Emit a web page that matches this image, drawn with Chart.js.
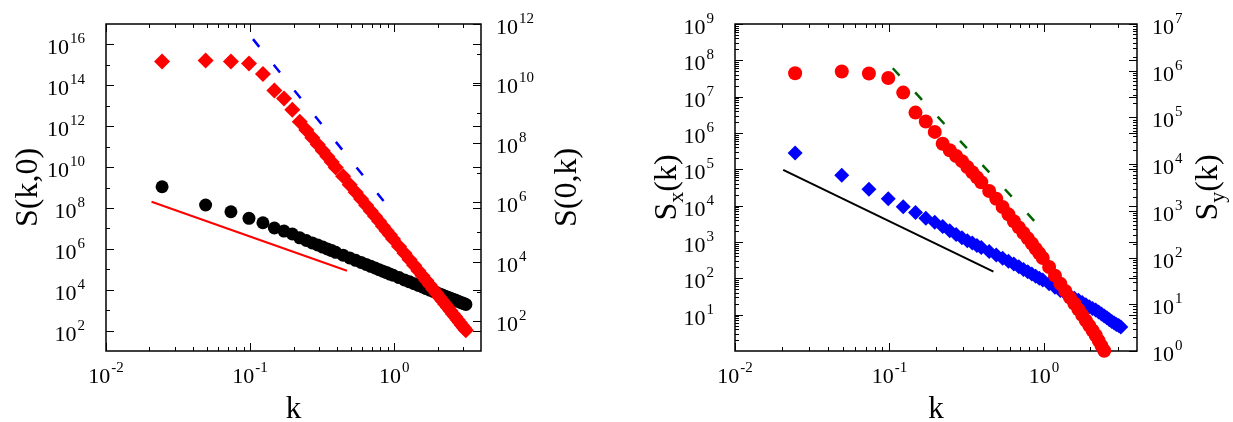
<!DOCTYPE html>
<html>
<head>
<meta charset="utf-8">
<script src="https://cdn.jsdelivr.net/npm/chart.js@4.4.1/dist/chart.umd.min.js"></script>
<style>
  html, body { margin: 0; padding: 0; background: #fff; }
  #wrap { position: relative; width: 1233px; height: 422px; }
  #wrap canvas { position: absolute; top: 0; }
</style>
</head>
<body>
<div id="wrap">
  <canvas id="left" width="616" height="422" style="left:0"></canvas>
  <canvas id="right" width="617" height="422" style="left:616px"></canvas>
</div>
<script>
// wave numbers k (shared by both panels)
const kVals = [0.0245, 0.0491, 0.0736, 0.0982, 0.1227, 0.1473, 0.1718, 0.1963, 0.2209, 0.2454,
  0.2700, 0.2945, 0.3191, 0.3436, 0.3682, 0.3927, 0.4418, 0.4909, 0.5400, 0.5890,
  0.6381, 0.6872, 0.7363, 0.7854, 0.8345, 0.8836, 0.9327, 0.9817, 1.0799, 1.1781,
  1.2763, 1.3744, 1.4726, 1.5708, 1.6690, 1.7671, 1.8653, 1.9635, 2.0617, 2.1598,
  2.2580, 2.3562, 2.4544, 2.5525, 2.6507, 2.7489, 2.8471, 2.9452, 3.0434, 3.1416];

// left panel: S(k,0) black circles (left axis), S(0,k) red diamonds (right axis)
const sk0 = [1.09e9, 1.39e8, 6.5e7, 3.1e7, 1.89e7, 1.04e7, 7.4e6, 5.3e6, 3.45e6, 2.55e6,
  1.95e6, 1.54e6, 1.21e6, 9.9e5, 8.2e5, 6.7e5, 4.9e5, 3.6e5, 2.74e5, 2.16e5,
  1.73e5, 1.39e5, 1.15e5, 9.5e4, 8.0e4, 6.9e4, 5.8e4, 5.1e4, 3.9e4, 3.0e4,
  2.43e4, 1.96e4, 1.62e4, 1.35e4, 1.13e4, 9.6e3, 8.2e3, 7.2e3, 6.2e3, 5.5e3,
  4.8e3, 4.3e3, 3.8e3, 3.4e3, 3.1e3, 2.76e3, 2.5e3, 2.28e3, 2.08e3, 1.9e3];
const s0k = [5.5e10, 5.9e10, 5.5e10, 4.7e10, 2.1e10, 5.8e9, 3.1e9, 1.3e9, 5.1e8, 2.7e8,
  1.5e8, 8.9e7, 5.4e7, 3.5e7, 2.3e7, 1.5e7, 7.5e6, 3.9e6, 2.2e6, 1.3e6,
  8.0e5, 5.1e5, 3.4e5, 2.3e5, 1.57e5, 1.11e5, 8.1e4, 5.9e4, 3.3e4, 1.93e4,
  1.19e4, 7.6e3, 5.0e3, 3.4e3, 2.35e3, 1.66e3, 1.19e3, 870, 643, 486,
  371, 289, 224, 176, 141, 112, 91, 74, 60, 50];
const sk0FitK = [0.0207, 0.47];
const sk0FitV = [2.0e8, 8.5e4];
const s0kFitK = [0.1047, 0.887];
const s0kFitV = [3.1e11, 8.2e5];

// right panel: Sx(k) blue diamonds (left axis), Sy(k) red circles (right axis)
const sx = [2.8e5, 6.9e4, 2.85e4, 1.54e4, 9.4e3, 6.5e3, 4.5e3, 3.5e3, 2.65e3, 2.04e3,
  1.6e3, 1.3e3, 1.09e3, 933, 806, 701, 544, 436, 358, 296,
  248, 207, 176, 151, 131, 114, 101, 90, 71, 57,
  46, 39, 33, 28.3, 24.8, 21.5, 18.7, 16.6, 14.8, 13.4,
  11.9, 10.4, 9.2, 8.2, 7.3, 6.5, 5.9, 5.4, 5.0, 4.6];
const sy = [8.8e5, 9.6e5, 8.7e5, 7.0e5, 3.4e5, 1.27e5, 8.2e4, 4.9e4, 2.74e4, 1.99e4,
  1.49e4, 1.16e4, 8.7e3, 6.7e3, 5.2e3, 4.1e3, 2.67e3, 1.82e3, 1.21e3, 841,
  601, 443, 335, 258, 200, 155, 123, 98, 63, 41,
  27.5, 19.3, 13.9, 10.4, 7.8, 5.9, 4.5, 3.5, 2.75, 2.18,
  1.67, 1.29, 1.01];
const sxFitK = [0.0205, 0.471];
const sxFitV = [9.7e4, 153];
const syFitK = [0.105, 0.902];
const syFitV = [1.13e6, 524];

// tick label exponents
const xTickExps = [-2, -1, 0];
const leftYTickExps = [2, 4, 6, 8, 10, 12, 14, 16];
const leftY2TickExps = [2, 4, 6, 8, 10, 12];
const rightYTickExps = [1, 2, 3, 4, 5, 6, 7, 8, 9];
const rightY2TickExps = [0, 1, 2, 3, 4, 5, 6, 7];

const SERIF = '"Liberation Serif", "DejaVu Serif", serif';

const pts = (ks, vs) => vs.map((v, i) => ({ x: ks[i], y: v }));

// 10^n label with raised exponent
function powLabel(ctx, exp, x, y, align) {
  const sup = String(exp);
  ctx.font = '22px ' + SERIF;
  const wb = ctx.measureText('10').width;
  ctx.font = '15px ' + SERIF;
  const ws = ctx.measureText(sup).width;
  let x0 = x;
  if (align === 'right') x0 = x - wb - ws - 1;
  if (align === 'center') x0 = x - (wb + ws + 1) / 2;
  ctx.font = '22px ' + SERIF;
  ctx.fillText('10', x0, y);
  ctx.font = '15px ' + SERIF;
  ctx.fillText(sup, x0 + wb + 1, y - 11);
}

// text made of pieces [text, size, dy], centred on x,y
function richText(ctx, parts, x, y, rotate) {
  ctx.save();
  ctx.translate(x, y);
  if (rotate) ctx.rotate(-Math.PI / 2);
  let w = 0;
  parts.forEach(p => { ctx.font = p[1] + 'px ' + SERIF; w += ctx.measureText(p[0]).width; });
  let cx = -w / 2;
  parts.forEach(p => {
    ctx.font = p[1] + 'px ' + SERIF;
    ctx.fillText(p[0], cx, p[2]);
    cx += ctx.measureText(p[0]).width;
  });
  ctx.restore();
}

function minorVals(scale, mode) {
  const out = [];
  const e0 = Math.floor(Math.log10(scale.min)), e1 = Math.ceil(Math.log10(scale.max));
  for (let e = e0; e <= e1; e++) {
    if (mode === 'odd') {
      if (Math.abs(e % 2) === 1) out.push(Math.pow(10, e));
    } else {
      for (let m = 2; m <= 9; m++) out.push(m * Math.pow(10, e));
    }
  }
  return out.filter(v => v > scale.min && v < scale.max);
}

const frames = {
  left: {
    yLabels: leftYTickExps, y2Labels: leftY2TickExps, yMinor: 'odd', y2Minor: 'odd',
    yTitle: [['S(k,0)', 32, 11]], y2Title: [['S(0,k)', 32, 11]], yTitleOff: 80, y2TitleOff: 84
  },
  right: {
    yLabels: rightYTickExps, y2Labels: rightY2TickExps, yMinor: 'sub', y2Minor: 'sub',
    yTitle: [['S', 32, 11], ['x', 22, 18], ['(k)', 32, 11]],
    y2Title: [['S', 32, 11], ['y', 22, 18], ['(k)', 32, 11]], yTitleOff: 70, y2TitleOff: 69
  }
};

const logFrame = {
  id: 'logFrame',
  beforeDatasetsDraw(chart) {
    const f = frames[chart.canvas.id];
    const ctx = chart.ctx, a = chart.chartArea;
    const xs = chart.scales.x, ys = chart.scales.y, y2s = chart.scales.y2;
    ctx.save();
    ctx.strokeStyle = '#000';
    ctx.lineWidth = 1.5;
    ctx.strokeRect(a.left, a.top, a.right - a.left, a.bottom - a.top);
    ctx.lineWidth = 1;
    const vTick = (v, len) => {
      const p = Math.round(xs.getPixelForValue(v)) + 0.5;
      ctx.beginPath();
      ctx.moveTo(p, a.bottom); ctx.lineTo(p, a.bottom - len);
      ctx.moveTo(p, a.top); ctx.lineTo(p, a.top + len);
      ctx.stroke();
    };
    const hTick = (scale, v, len, side) => {
      const p = Math.round(scale.getPixelForValue(v)) + 0.5;
      ctx.beginPath();
      if (side !== 'right') { ctx.moveTo(a.left, p); ctx.lineTo(a.left + len, p); }
      if (side !== 'left') { ctx.moveTo(a.right, p); ctx.lineTo(a.right - len, p); }
      ctx.stroke();
    };
    xTickExps.forEach(e => vTick(Math.pow(10, e), 8));
    minorVals(xs, 'sub').forEach(v => vTick(v, 4));
    f.yLabels.forEach(e => hTick(ys, Math.pow(10, e), 8, 'both'));
    minorVals(ys, f.yMinor).forEach(v => hTick(ys, v, 4, 'left'));
    f.y2Labels.forEach(e => hTick(y2s, Math.pow(10, e), 8, 'right'));
    minorVals(y2s, f.y2Minor).forEach(v => hTick(y2s, v, 4, 'right'));
    ctx.restore();
  },
  afterDraw(chart) {
    const f = frames[chart.canvas.id];
    const ctx = chart.ctx, a = chart.chartArea;
    const xs = chart.scales.x, ys = chart.scales.y, y2s = chart.scales.y2;
    ctx.save();
    ctx.fillStyle = '#000';
    ctx.textAlign = 'left';
    ctx.textBaseline = 'alphabetic';
    xTickExps.forEach(e => powLabel(ctx, e, xs.getPixelForValue(Math.pow(10, e)), 383, 'center'));
    f.yLabels.forEach(e => powLabel(ctx, e, a.left - 21, ys.getPixelForValue(Math.pow(10, e)) + 10, 'right'));
    f.y2Labels.forEach(e => powLabel(ctx, e, a.right + 15, y2s.getPixelForValue(Math.pow(10, e)) + 10, 'left'));
    const cy = (a.top + a.bottom) / 2;
    richText(ctx, [['k', 31, 0]], (a.left + a.right) / 2, 418, false);
    richText(ctx, f.yTitle, a.left - f.yTitleOff, cy, true);
    richText(ctx, f.y2Title, a.right + f.y2TitleOff, cy, true);
    ctx.restore();
  }
};

function baseOptions(yMin, yMax, y2Min, y2Max, yW, y2W) {
  const hidden = { grid: { display: false }, border: { display: false }, ticks: { display: false } };
  return {
    responsive: false,
    animation: false,
    events: [],
    layout: { padding: { top: 24, left: 0, right: 0, bottom: 0 } },
    plugins: { legend: { display: false }, tooltip: { enabled: false } },
    scales: {
      x: Object.assign({ type: 'logarithmic', position: 'bottom', min: 0.01, max: 4,
        afterFit: s => { s.height = 71; } }, hidden),
      y: Object.assign({ type: 'logarithmic', position: 'left', min: yMin, max: yMax,
        afterFit: s => { s.width = yW; } }, hidden),
      y2: Object.assign({ type: 'logarithmic', position: 'right', min: y2Min, max: y2Max,
        afterFit: s => { s.width = y2W; } }, hidden)
    }
  };
}

function markers(label, data, axis, style, radius, color, order) {
  return {
    label: label, data: data, yAxisID: axis, showLine: false, clip: false,
    pointStyle: style, pointRadius: radius, pointBorderWidth: 0,
    backgroundColor: color, borderColor: color, order: order
  };
}

function line(label, data, axis, color, width, dash, order) {
  return {
    label: label, data: data, yAxisID: axis, showLine: true, pointRadius: 0,
    borderColor: color, borderWidth: width, borderDash: dash, order: order
  };
}

new Chart(document.getElementById('left'), {
  type: 'scatter',
  data: {
    datasets: [
      markers('S(0,k)', pts(kVals, s0k), 'y2', 'rectRot', 8, '#ff0000', 0),
      line('S(0,k) slope', pts(s0kFitK, s0kFitV), 'y2', '#0000ff', 2.5, [10, 23], 1),
      markers('S(k,0)', pts(kVals, sk0), 'y', 'circle', 6.5, '#000000', 2),
      line('S(k,0) slope', pts(sk0FitK, sk0FitV), 'y', '#ff0000', 2, [], 3)
    ]
  },
  options: baseOptions(10, 1e17, 10, 1e12, 106, 135),
  plugins: [logFrame]
});

new Chart(document.getElementById('right'), {
  type: 'scatter',
  data: {
    datasets: [
      markers('Sy(k)', pts(kVals, sy), 'y2', 'circle', 7, '#ff0000', 0),
      line('Sy(k) slope', pts(syFitK, syFitV), 'y2', '#006400', 2.5, [10, 23], 1),
      markers('Sx(k)', pts(kVals, sx), 'y', 'rectRot', 7.5, '#0000ff', 2),
      line('Sx(k) slope', pts(sxFitK, sxFitV), 'y', '#000000', 2, [], 3)
    ]
  },
  options: baseOptions(1, 1e9, 1, 1e7, 119, 96),
  plugins: [logFrame]
});
</script>
</body>
</html>
